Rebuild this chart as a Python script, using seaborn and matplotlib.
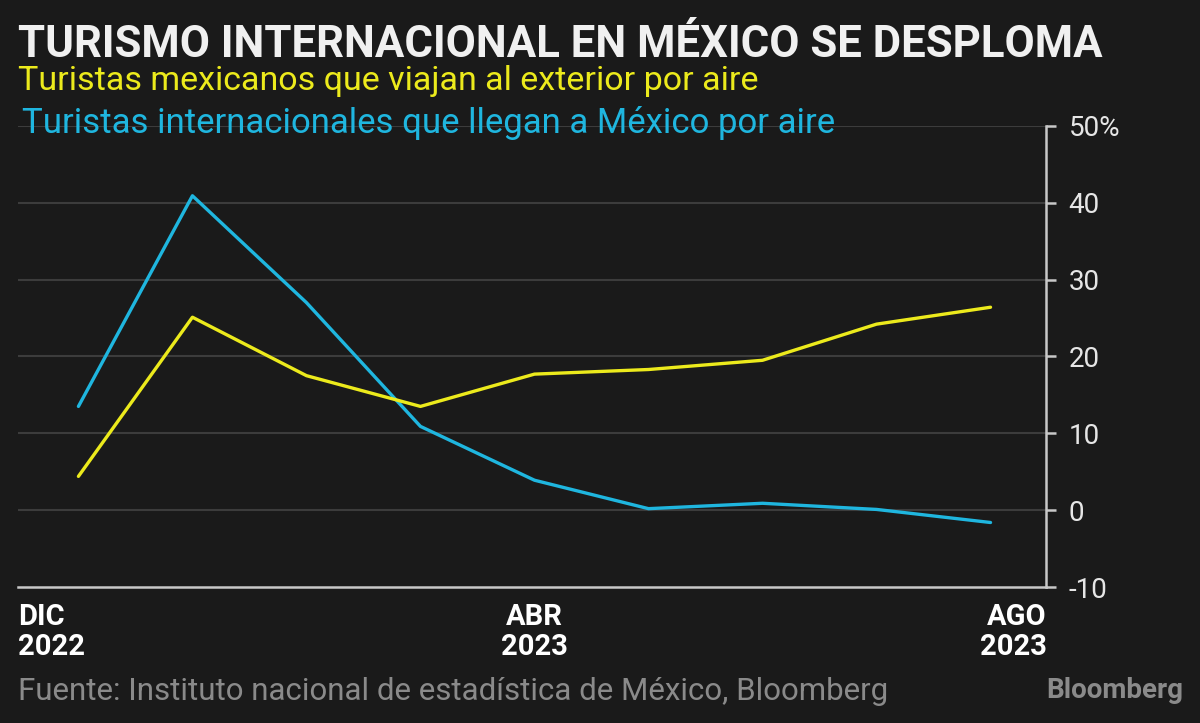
import pandas as pd
import matplotlib.pyplot as plt
import matplotlib.transforms as mtransforms
import seaborn as sns

# data (year-over-year change, %)
months = ['DIC 2022', 'ENE 2023', 'FEB 2023', 'MAR 2023', 'ABR 2023',
          'MAY 2023', 'JUN 2023', 'JUL 2023', 'AGO 2023']
mexicanos_exterior = [4.4, 25.1, 17.5, 13.5, 17.7, 18.3, 19.5, 24.2, 26.4]
internacionales_llegan = [13.5, 40.9, 27.0, 10.9, 3.9, 0.2, 0.9, 0.1, -1.6]
ytick_vals = [-10, 0, 10, 20, 30, 40, 50]
ytick_labels = ['-10', '0', '10', '20', '30', '40', '50%']
xlabel_months = {0: 'DIC\n2022', 4: 'ABR\n2023', 8: 'AGO\n2023'}

BG = '#1a1a1a'
YELLOW = '#ecea1c'
CYAN = '#1fb6df'
GRID = '#3c3c3c'
AXIS = '#c8c8c8'

df = pd.DataFrame({
    'idx': list(range(len(months))) * 2,
    'valor': mexicanos_exterior + internacionales_llegan,
    'serie': ['mex'] * len(months) + ['int'] * len(months),
})

sns.set_theme(style='dark', rc={'axes.facecolor': BG, 'figure.facecolor': BG})
plt.rcParams['font.family'] = ['Roboto', 'DejaVu Sans']

fig = plt.figure(figsize=(12, 7.23), dpi=100)
ax = fig.add_axes([0.015, 0.188, 0.857, 0.638])

sns.lineplot(data=df, x='idx', y='valor', hue='serie',
             palette={'mex': YELLOW, 'int': CYAN}, hue_order=['int', 'mex'],
             linewidth=2.4, legend=False, ax=ax)

ax.set_xlim(-0.53, 8.49)
ax.set_ylim(-10, 50)
ax.set_xlabel('')
ax.set_ylabel('')

# grid + axes
for v in ytick_vals[1:]:
    ax.axhline(v, color=GRID, linewidth=1.5, zorder=0)
ax.grid(False)
for s in ['top', 'left']:
    ax.spines[s].set_visible(False)
ax.spines['right'].set_color(AXIS)
ax.spines['right'].set_linewidth(1.8)
ax.spines['bottom'].set_color(AXIS)
ax.spines['bottom'].set_linewidth(1.8)

ax.yaxis.tick_right()
ax.set_yticks(ytick_vals, ytick_labels)
ax.tick_params(axis='y', colors=AXIS, length=7, width=1.8, pad=9,
               labelsize=20, labelcolor='#e6e6e6')
ax.set_xticks([])

# month labels under the axis
trans = mtransforms.blended_transform_factory(ax.transData, ax.transAxes)
xmin, xmax = ax.get_xlim()
ha_map = {0: ('left', xmin), 4: ('center', 4), 8: ('right', xmax)}
for i, lab in xlabel_months.items():
    ha, xpos = ha_map[i]
    ax.text(xpos, -0.035, lab, transform=trans, ha=ha, va='top',
            fontsize=21, fontweight='bold', color='white', linespacing=1.1)

# titles
fig.text(0.015, 0.921, 'TURISMO INTERNACIONAL EN MÉXICO SE DESPLOMA',
         fontsize=31.5, fontweight='bold', color='#f0f0f0', va='baseline')
fig.text(0.015, 0.876, 'Turistas mexicanos que viajan al exterior por aire',
         fontsize=24.5, color=YELLOW, va='baseline')
fig.text(0.018, 0.816, 'Turistas internacionales que llegan a México por aire',
         fontsize=25, color=CYAN, va='baseline')

# footer
fig.text(0.015, 0.032, 'Fuente: Instituto nacional de estadística de México, Bloomberg',
         fontsize=22.5, color='#8a8a8a', va='baseline')
fig.text(0.986, 0.034, 'Bloomberg', fontsize=20, fontweight='bold',
         color='#8a8a8a', ha='right', va='baseline')

plt.savefig('out.png', dpi=100, facecolor=BG)
